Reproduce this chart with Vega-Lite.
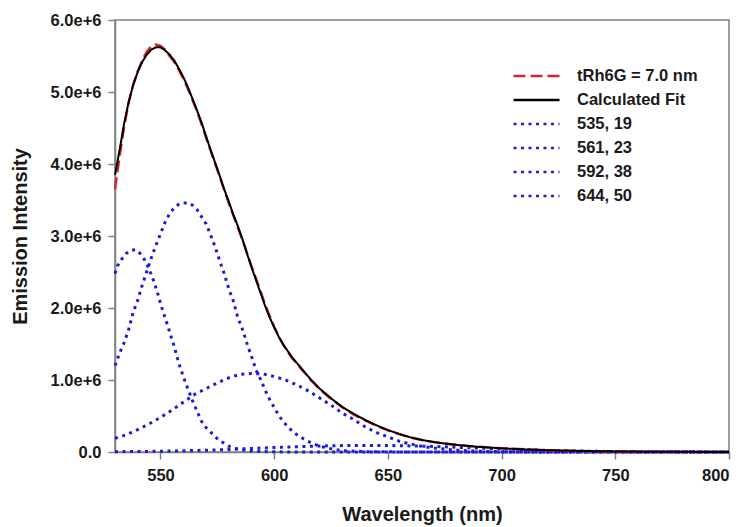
{
  "$schema": "https://vega.github.io/schema/vega-lite/v6.json",
  "width": 614,
  "height": 432,
  "autosize": {"type": "none"},
  "padding": {"left": 115, "top": 20, "right": 19, "bottom": 75},
  "background": "white",
  "config": {
    "font": "Liberation Sans",
    "view": {"stroke": "#808080", "strokeWidth": 1.5},
    "axis": {
      "grid": false,
      "domainColor": "#808080",
      "domainWidth": 1.5,
      "tickColor": "#808080",
      "tickWidth": 1.5,
      "labelFont": "Liberation Sans",
      "labelFontWeight": "bold",
      "labelFontSize": 16.5,
      "labelColor": "#1a1a1a",
      "titleFont": "Liberation Sans",
      "titleFontWeight": "bold",
      "titleFontSize": 20,
      "titleColor": "#1a1a1a"
    },
    "legend": {
      "labelFont": "Liberation Sans",
      "labelFontWeight": "bold",
      "labelFontSize": 16.5,
      "labelColor": "#1a1a1a",
      "labelLimit": 300,
      "symbolType": "stroke",
      "symbolSize": 2116,
      "symbolStrokeWidth": 2.5,
      "clipHeight": 20,
      "rowPadding": 4,
      "labelOffset": 16,
      "padding": 0
    }
  },
  "datasets": {
    "d": [
      {"s": "535, 19", "w": 530, "v": 2480000},
      {"s": "535, 19", "w": 531, "v": 2580000},
      {"s": "535, 19", "w": 533, "v": 2680000},
      {"s": "535, 19", "w": 535, "v": 2760000},
      {"s": "535, 19", "w": 537, "v": 2800000},
      {"s": "535, 19", "w": 539, "v": 2810000},
      {"s": "535, 19", "w": 541, "v": 2760000},
      {"s": "535, 19", "w": 543, "v": 2670000},
      {"s": "535, 19", "w": 545, "v": 2540000},
      {"s": "535, 19", "w": 547, "v": 2380000},
      {"s": "535, 19", "w": 549, "v": 2180000},
      {"s": "535, 19", "w": 551, "v": 1960000},
      {"s": "535, 19", "w": 553, "v": 1770000},
      {"s": "535, 19", "w": 556, "v": 1470000},
      {"s": "535, 19", "w": 558, "v": 1240000},
      {"s": "535, 19", "w": 560, "v": 1050000},
      {"s": "535, 19", "w": 562, "v": 880000},
      {"s": "535, 19", "w": 564, "v": 720000},
      {"s": "535, 19", "w": 566, "v": 570000},
      {"s": "535, 19", "w": 568, "v": 430000},
      {"s": "535, 19", "w": 570, "v": 340000},
      {"s": "535, 19", "w": 572, "v": 280000},
      {"s": "535, 19", "w": 574, "v": 210000},
      {"s": "535, 19", "w": 576, "v": 160000},
      {"s": "535, 19", "w": 578, "v": 120000},
      {"s": "535, 19", "w": 580, "v": 80000},
      {"s": "535, 19", "w": 583, "v": 50000},
      {"s": "535, 19", "w": 586, "v": 30000},
      {"s": "535, 19", "w": 590, "v": 15000},
      {"s": "535, 19", "w": 595, "v": 6000},
      {"s": "535, 19", "w": 600, "v": 2000},
      {"s": "535, 19", "w": 620, "v": 0},
      {"s": "535, 19", "w": 700, "v": 0},
      {"s": "535, 19", "w": 800, "v": 0},

      {"s": "561, 23", "w": 530, "v": 1200000},
      {"s": "561, 23", "w": 532, "v": 1370000},
      {"s": "561, 23", "w": 534, "v": 1520000},
      {"s": "561, 23", "w": 536, "v": 1700000},
      {"s": "561, 23", "w": 538, "v": 1940000},
      {"s": "561, 23", "w": 540, "v": 2110000},
      {"s": "561, 23", "w": 542, "v": 2320000},
      {"s": "561, 23", "w": 544, "v": 2510000},
      {"s": "561, 23", "w": 546, "v": 2700000},
      {"s": "561, 23", "w": 548, "v": 2870000},
      {"s": "561, 23", "w": 550, "v": 3030000},
      {"s": "561, 23", "w": 552, "v": 3190000},
      {"s": "561, 23", "w": 554, "v": 3310000},
      {"s": "561, 23", "w": 556, "v": 3390000},
      {"s": "561, 23", "w": 558, "v": 3440000},
      {"s": "561, 23", "w": 560, "v": 3460000},
      {"s": "561, 23", "w": 562, "v": 3460000},
      {"s": "561, 23", "w": 564, "v": 3430000},
      {"s": "561, 23", "w": 566, "v": 3370000},
      {"s": "561, 23", "w": 568, "v": 3270000},
      {"s": "561, 23", "w": 570, "v": 3170000},
      {"s": "561, 23", "w": 572, "v": 3020000},
      {"s": "561, 23", "w": 574, "v": 2850000},
      {"s": "561, 23", "w": 576, "v": 2660000},
      {"s": "561, 23", "w": 578, "v": 2480000},
      {"s": "561, 23", "w": 580, "v": 2270000},
      {"s": "561, 23", "w": 582, "v": 2100000},
      {"s": "561, 23", "w": 584, "v": 1870000},
      {"s": "561, 23", "w": 586, "v": 1710000},
      {"s": "561, 23", "w": 588, "v": 1510000},
      {"s": "561, 23", "w": 590, "v": 1330000},
      {"s": "561, 23", "w": 592, "v": 1140000},
      {"s": "561, 23", "w": 594, "v": 1010000},
      {"s": "561, 23", "w": 596, "v": 860000},
      {"s": "561, 23", "w": 598, "v": 730000},
      {"s": "561, 23", "w": 600, "v": 620000},
      {"s": "561, 23", "w": 602, "v": 510000},
      {"s": "561, 23", "w": 604, "v": 420000},
      {"s": "561, 23", "w": 606, "v": 350000},
      {"s": "561, 23", "w": 608, "v": 290000},
      {"s": "561, 23", "w": 610, "v": 240000},
      {"s": "561, 23", "w": 613, "v": 180000},
      {"s": "561, 23", "w": 616, "v": 130000},
      {"s": "561, 23", "w": 620, "v": 80000},
      {"s": "561, 23", "w": 625, "v": 45000},
      {"s": "561, 23", "w": 630, "v": 20000},
      {"s": "561, 23", "w": 640, "v": 5000},
      {"s": "561, 23", "w": 660, "v": 0},
      {"s": "561, 23", "w": 800, "v": 0},

      {"s": "592, 38", "w": 530, "v": 190000},
      {"s": "592, 38", "w": 535, "v": 240000},
      {"s": "592, 38", "w": 540, "v": 310000},
      {"s": "592, 38", "w": 545, "v": 390000},
      {"s": "592, 38", "w": 550, "v": 480000},
      {"s": "592, 38", "w": 555, "v": 580000},
      {"s": "592, 38", "w": 560, "v": 690000},
      {"s": "592, 38", "w": 565, "v": 800000},
      {"s": "592, 38", "w": 570, "v": 880000},
      {"s": "592, 38", "w": 575, "v": 960000},
      {"s": "592, 38", "w": 580, "v": 1030000},
      {"s": "592, 38", "w": 585, "v": 1080000},
      {"s": "592, 38", "w": 590, "v": 1090000},
      {"s": "592, 38", "w": 595, "v": 1085000},
      {"s": "592, 38", "w": 600, "v": 1050000},
      {"s": "592, 38", "w": 605, "v": 1000000},
      {"s": "592, 38", "w": 610, "v": 930000},
      {"s": "592, 38", "w": 615, "v": 850000},
      {"s": "592, 38", "w": 620, "v": 750000},
      {"s": "592, 38", "w": 625, "v": 650000},
      {"s": "592, 38", "w": 630, "v": 540000},
      {"s": "592, 38", "w": 635, "v": 450000},
      {"s": "592, 38", "w": 640, "v": 350000},
      {"s": "592, 38", "w": 645, "v": 270000},
      {"s": "592, 38", "w": 650, "v": 210000},
      {"s": "592, 38", "w": 655, "v": 150000},
      {"s": "592, 38", "w": 660, "v": 110000},
      {"s": "592, 38", "w": 665, "v": 80000},
      {"s": "592, 38", "w": 670, "v": 55000},
      {"s": "592, 38", "w": 680, "v": 25000},
      {"s": "592, 38", "w": 690, "v": 10000},
      {"s": "592, 38", "w": 700, "v": 4000},
      {"s": "592, 38", "w": 720, "v": 1000},
      {"s": "592, 38", "w": 800, "v": 0},

      {"s": "644, 50", "w": 530, "v": 4000},
      {"s": "644, 50", "w": 550, "v": 10000},
      {"s": "644, 50", "w": 570, "v": 25000},
      {"s": "644, 50", "w": 580, "v": 35000},
      {"s": "644, 50", "w": 590, "v": 50000},
      {"s": "644, 50", "w": 600, "v": 62000},
      {"s": "644, 50", "w": 610, "v": 74000},
      {"s": "644, 50", "w": 620, "v": 83000},
      {"s": "644, 50", "w": 630, "v": 89000},
      {"s": "644, 50", "w": 640, "v": 92000},
      {"s": "644, 50", "w": 650, "v": 90000},
      {"s": "644, 50", "w": 660, "v": 85000},
      {"s": "644, 50", "w": 670, "v": 77000},
      {"s": "644, 50", "w": 680, "v": 66000},
      {"s": "644, 50", "w": 690, "v": 54000},
      {"s": "644, 50", "w": 700, "v": 43000},
      {"s": "644, 50", "w": 710, "v": 32000},
      {"s": "644, 50", "w": 720, "v": 23000},
      {"s": "644, 50", "w": 730, "v": 16000},
      {"s": "644, 50", "w": 740, "v": 10000},
      {"s": "644, 50", "w": 750, "v": 6000},
      {"s": "644, 50", "w": 760, "v": 4000},
      {"s": "644, 50", "w": 780, "v": 1000},
      {"s": "644, 50", "w": 800, "v": 0},

      {"s": "tRh6G = 7.0 nm", "w": 530, "v": 3650000},
      {"s": "tRh6G = 7.0 nm", "w": 532, "v": 4100000},
      {"s": "tRh6G = 7.0 nm", "w": 534, "v": 4520000},
      {"s": "tRh6G = 7.0 nm", "w": 536, "v": 4850000},
      {"s": "tRh6G = 7.0 nm", "w": 538, "v": 5100000},
      {"s": "tRh6G = 7.0 nm", "w": 540, "v": 5290000},
      {"s": "tRh6G = 7.0 nm", "w": 542, "v": 5440000},
      {"s": "tRh6G = 7.0 nm", "w": 544, "v": 5560000},
      {"s": "tRh6G = 7.0 nm", "w": 546, "v": 5640000},
      {"s": "tRh6G = 7.0 nm", "w": 548, "v": 5660000},
      {"s": "tRh6G = 7.0 nm", "w": 550, "v": 5640000},
      {"s": "tRh6G = 7.0 nm", "w": 552, "v": 5590000},
      {"s": "tRh6G = 7.0 nm", "w": 554, "v": 5500000},
      {"s": "tRh6G = 7.0 nm", "w": 556, "v": 5420000},
      {"s": "tRh6G = 7.0 nm", "w": 558, "v": 5310000},
      {"s": "tRh6G = 7.0 nm", "w": 560, "v": 5190000},
      {"s": "tRh6G = 7.0 nm", "w": 562, "v": 5050000},
      {"s": "tRh6G = 7.0 nm", "w": 564, "v": 4900000},
      {"s": "tRh6G = 7.0 nm", "w": 566, "v": 4740000},
      {"s": "tRh6G = 7.0 nm", "w": 568, "v": 4560000},
      {"s": "tRh6G = 7.0 nm", "w": 570, "v": 4370000},
      {"s": "tRh6G = 7.0 nm", "w": 572, "v": 4190000},
      {"s": "tRh6G = 7.0 nm", "w": 574, "v": 4010000},
      {"s": "tRh6G = 7.0 nm", "w": 576, "v": 3830000},
      {"s": "tRh6G = 7.0 nm", "w": 578, "v": 3640000},
      {"s": "tRh6G = 7.0 nm", "w": 580, "v": 3460000},
      {"s": "tRh6G = 7.0 nm", "w": 582, "v": 3290000},
      {"s": "tRh6G = 7.0 nm", "w": 584, "v": 3120000},
      {"s": "tRh6G = 7.0 nm", "w": 586, "v": 2950000},
      {"s": "tRh6G = 7.0 nm", "w": 588, "v": 2770000},
      {"s": "tRh6G = 7.0 nm", "w": 590, "v": 2580000},
      {"s": "tRh6G = 7.0 nm", "w": 592, "v": 2410000},
      {"s": "tRh6G = 7.0 nm", "w": 594, "v": 2230000},
      {"s": "tRh6G = 7.0 nm", "w": 596, "v": 2050000},
      {"s": "tRh6G = 7.0 nm", "w": 598, "v": 1890000},
      {"s": "tRh6G = 7.0 nm", "w": 600, "v": 1740000},
      {"s": "tRh6G = 7.0 nm", "w": 602, "v": 1610000},
      {"s": "tRh6G = 7.0 nm", "w": 604, "v": 1490000},
      {"s": "tRh6G = 7.0 nm", "w": 606, "v": 1390000},
      {"s": "tRh6G = 7.0 nm", "w": 608, "v": 1300000},
      {"s": "tRh6G = 7.0 nm", "w": 610, "v": 1230000},
      {"s": "tRh6G = 7.0 nm", "w": 612, "v": 1150000},
      {"s": "tRh6G = 7.0 nm", "w": 614, "v": 1080000},
      {"s": "tRh6G = 7.0 nm", "w": 616, "v": 1000000},
      {"s": "tRh6G = 7.0 nm", "w": 618, "v": 940000},
      {"s": "tRh6G = 7.0 nm", "w": 620, "v": 870000},
      {"s": "tRh6G = 7.0 nm", "w": 622, "v": 820000},
      {"s": "tRh6G = 7.0 nm", "w": 625, "v": 740000},
      {"s": "tRh6G = 7.0 nm", "w": 630, "v": 620000},
      {"s": "tRh6G = 7.0 nm", "w": 635, "v": 520000},
      {"s": "tRh6G = 7.0 nm", "w": 640, "v": 440000},
      {"s": "tRh6G = 7.0 nm", "w": 645, "v": 365000},
      {"s": "tRh6G = 7.0 nm", "w": 650, "v": 300000},
      {"s": "tRh6G = 7.0 nm", "w": 655, "v": 248000},
      {"s": "tRh6G = 7.0 nm", "w": 660, "v": 200000},
      {"s": "tRh6G = 7.0 nm", "w": 665, "v": 166000},
      {"s": "tRh6G = 7.0 nm", "w": 670, "v": 138000},
      {"s": "tRh6G = 7.0 nm", "w": 675, "v": 117000},
      {"s": "tRh6G = 7.0 nm", "w": 680, "v": 100000},
      {"s": "tRh6G = 7.0 nm", "w": 685, "v": 85000},
      {"s": "tRh6G = 7.0 nm", "w": 690, "v": 72000},
      {"s": "tRh6G = 7.0 nm", "w": 695, "v": 61000},
      {"s": "tRh6G = 7.0 nm", "w": 700, "v": 52000},
      {"s": "tRh6G = 7.0 nm", "w": 710, "v": 37000},
      {"s": "tRh6G = 7.0 nm", "w": 720, "v": 26000},
      {"s": "tRh6G = 7.0 nm", "w": 730, "v": 18000},
      {"s": "tRh6G = 7.0 nm", "w": 740, "v": 12000},
      {"s": "tRh6G = 7.0 nm", "w": 750, "v": 8000},
      {"s": "tRh6G = 7.0 nm", "w": 760, "v": 6000},
      {"s": "tRh6G = 7.0 nm", "w": 770, "v": 4000},
      {"s": "tRh6G = 7.0 nm", "w": 780, "v": 3000},
      {"s": "tRh6G = 7.0 nm", "w": 790, "v": 2000},
      {"s": "tRh6G = 7.0 nm", "w": 800, "v": 1000},

      {"s": "Calculated Fit", "w": 530, "v": 3850000},
      {"s": "Calculated Fit", "w": 532, "v": 4190000},
      {"s": "Calculated Fit", "w": 534, "v": 4560000},
      {"s": "Calculated Fit", "w": 536, "v": 4860000},
      {"s": "Calculated Fit", "w": 538, "v": 5100000},
      {"s": "Calculated Fit", "w": 540, "v": 5280000},
      {"s": "Calculated Fit", "w": 542, "v": 5420000},
      {"s": "Calculated Fit", "w": 544, "v": 5520000},
      {"s": "Calculated Fit", "w": 546, "v": 5590000},
      {"s": "Calculated Fit", "w": 548, "v": 5620000},
      {"s": "Calculated Fit", "w": 550, "v": 5620000},
      {"s": "Calculated Fit", "w": 552, "v": 5580000},
      {"s": "Calculated Fit", "w": 554, "v": 5520000},
      {"s": "Calculated Fit", "w": 556, "v": 5440000},
      {"s": "Calculated Fit", "w": 558, "v": 5330000},
      {"s": "Calculated Fit", "w": 560, "v": 5210000},
      {"s": "Calculated Fit", "w": 562, "v": 5070000},
      {"s": "Calculated Fit", "w": 564, "v": 4910000},
      {"s": "Calculated Fit", "w": 566, "v": 4750000},
      {"s": "Calculated Fit", "w": 568, "v": 4580000},
      {"s": "Calculated Fit", "w": 570, "v": 4390000},
      {"s": "Calculated Fit", "w": 572, "v": 4200000},
      {"s": "Calculated Fit", "w": 574, "v": 4020000},
      {"s": "Calculated Fit", "w": 576, "v": 3840000},
      {"s": "Calculated Fit", "w": 578, "v": 3650000},
      {"s": "Calculated Fit", "w": 580, "v": 3480000},
      {"s": "Calculated Fit", "w": 582, "v": 3300000},
      {"s": "Calculated Fit", "w": 584, "v": 3140000},
      {"s": "Calculated Fit", "w": 586, "v": 2960000},
      {"s": "Calculated Fit", "w": 588, "v": 2760000},
      {"s": "Calculated Fit", "w": 590, "v": 2570000},
      {"s": "Calculated Fit", "w": 592, "v": 2390000},
      {"s": "Calculated Fit", "w": 594, "v": 2210000},
      {"s": "Calculated Fit", "w": 596, "v": 2030000},
      {"s": "Calculated Fit", "w": 598, "v": 1870000},
      {"s": "Calculated Fit", "w": 600, "v": 1730000},
      {"s": "Calculated Fit", "w": 602, "v": 1600000},
      {"s": "Calculated Fit", "w": 604, "v": 1490000},
      {"s": "Calculated Fit", "w": 608, "v": 1310000},
      {"s": "Calculated Fit", "w": 612, "v": 1160000},
      {"s": "Calculated Fit", "w": 616, "v": 1010000},
      {"s": "Calculated Fit", "w": 620, "v": 880000},
      {"s": "Calculated Fit", "w": 625, "v": 745000},
      {"s": "Calculated Fit", "w": 630, "v": 625000},
      {"s": "Calculated Fit", "w": 635, "v": 530000},
      {"s": "Calculated Fit", "w": 640, "v": 445000},
      {"s": "Calculated Fit", "w": 645, "v": 370000},
      {"s": "Calculated Fit", "w": 650, "v": 305000},
      {"s": "Calculated Fit", "w": 655, "v": 250000},
      {"s": "Calculated Fit", "w": 660, "v": 203000},
      {"s": "Calculated Fit", "w": 665, "v": 167000},
      {"s": "Calculated Fit", "w": 670, "v": 139000},
      {"s": "Calculated Fit", "w": 675, "v": 117000},
      {"s": "Calculated Fit", "w": 680, "v": 99000},
      {"s": "Calculated Fit", "w": 690, "v": 71000},
      {"s": "Calculated Fit", "w": 700, "v": 51000},
      {"s": "Calculated Fit", "w": 710, "v": 36000},
      {"s": "Calculated Fit", "w": 720, "v": 25000},
      {"s": "Calculated Fit", "w": 730, "v": 18000},
      {"s": "Calculated Fit", "w": 740, "v": 12000},
      {"s": "Calculated Fit", "w": 750, "v": 8000},
      {"s": "Calculated Fit", "w": 760, "v": 5000},
      {"s": "Calculated Fit", "w": 780, "v": 2000},
      {"s": "Calculated Fit", "w": 800, "v": 1000}
    ]
  },
  "data": {"name": "d"},
  "encoding": {
    "x": {
      "field": "w",
      "type": "quantitative",
      "scale": {"domain": [530, 800], "nice": false, "zero": false},
      "axis": {
        "title": "Wavelength (nm)",
        "values": [550, 600, 650, 700, 750, 800],
        "tickSize": 7,
        "labelPadding": 8,
        "titlePadding": 21
      }
    },
    "y": {
      "field": "v",
      "type": "quantitative",
      "scale": {"domain": [0, 6000000], "nice": false},
      "axis": {
        "title": "Emission Intensity",
        "values": [0, 1000000, 2000000, 3000000, 4000000, 5000000, 6000000],
        "labelExpr": "datum.value == 0 ? '0.0' : format(datum.value / 1000000, '.1f') + 'e+6'",
        "tickSize": 7,
        "labelPadding": 7,
        "titlePadding": 20
      }
    },
    "color": {
      "field": "s",
      "type": "nominal",
      "scale": {
        "domain": ["tRh6G = 7.0 nm", "Calculated Fit", "535, 19", "561, 23", "592, 38", "644, 50"],
        "range": ["#dd2424", "#000000", "#1c1cd8", "#1c1cd8", "#1c1cd8", "#1c1cd8"]
      },
      "legend": {"title": null, "orient": "none", "legendX": 397, "legendY": 46}
    },
    "strokeDash": {
      "field": "s",
      "type": "nominal",
      "scale": {
        "domain": ["tRh6G = 7.0 nm", "Calculated Fit", "535, 19", "561, 23", "592, 38", "644, 50"],
        "range": [[12, 5], [1, 0], [3, 4.5], [3, 4.5], [3, 4.5], [3, 4.5]]
      },
      "legend": {"title": null, "orient": "none", "legendX": 397, "legendY": 46}
    }
  },
  "layer": [
    {
      "transform": [{"filter": "datum.s != 'Calculated Fit' && datum.s != 'tRh6G = 7.0 nm'"}],
      "mark": {"type": "line", "strokeWidth": 3}
    },
    {
      "transform": [{"filter": "datum.s == 'tRh6G = 7.0 nm'"}],
      "mark": {"type": "line", "strokeWidth": 2.5}
    },
    {
      "transform": [{"filter": "datum.s == 'Calculated Fit'"}],
      "mark": {"type": "line", "strokeWidth": 2}
    }
  ]
}
